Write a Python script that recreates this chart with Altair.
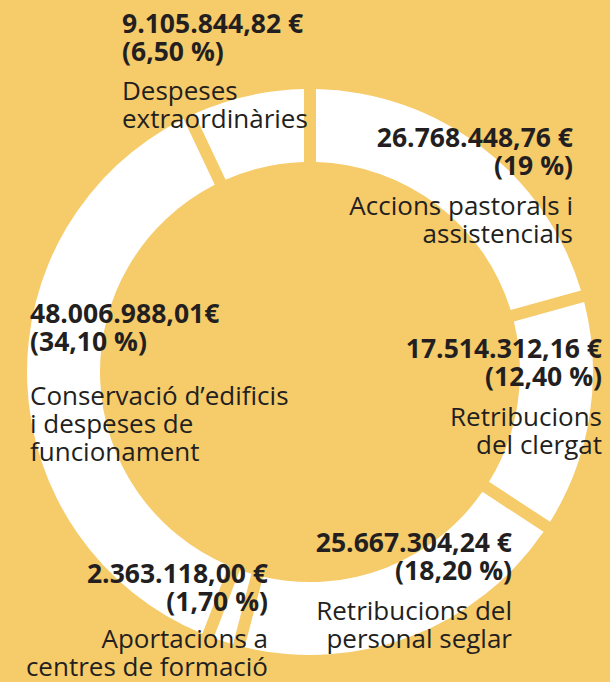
import altair as alt
import pandas as pd

# ---- data ----
categories = [
    "Accions pastorals i assistencials",
    "Retribucions del clergat",
    "Retribucions del personal seglar",
    "Aportacions a centres de formació",
    "Conservació d’edificis i despeses de funcionament",
    "Despeses extraordinàries",
]
amounts = [26768448.76, 17514312.16, 25667304.24, 2363118.00, 48006988.01, 9105844.82]
amount_labels = ["26.768.448,76 €", "17.514.312,16 €", "25.667.304,24 €",
                 "2.363.118,00 €", "48.006.988,01€", "9.105.844,82 €"]
pct_labels = ["(19 %)", "(12,40 %)", "(18,20 %)", "(1,70 %)", "(34,10 %)", "(6,50 %)"]
label_lines = [
    ["Accions pastorals i", "assistencials"],
    ["Retribucions", "del clergat"],
    ["Retribucions del", "personal seglar"],
    ["Aportacions a", "centres de formació"],
    ["Conservació d’edificis", "i despeses de", "funcionament"],
    ["Despeses", "extraordinàries"],
]

# ---- layout (annotation anchors, pixels) ----
W, H = 610, 682
CX, CY = 310, 372
R_IN, R_OUT = 210, 283
LINE_H = 28
# (x, align, first baseline of value, first baseline of label)
anchors = [
    (573, "right", 147, 215),
    (602, "right", 358, 426),
    (512, "right", 552, 620),
    (268, "right", 583, 648),
    (30, "left", 323, 405),
    (122, "left", 33, 100),
]

BG = "#F6CB6A"
INK = "#231F20"
FONT = "Open Sans"

arc_df = pd.DataFrame({"cat": categories, "amount": amounts, "idx": list(range(len(categories)))})

rows = []
for i, (x, align, yv, yl) in enumerate(anchors):
    rows.append({"px": x, "py": yv, "t": amount_labels[i], "w": "bold", "al": align})
    rows.append({"px": x, "py": yv + LINE_H, "t": pct_labels[i], "w": "bold", "al": align})
    for j, ln in enumerate(label_lines[i]):
        rows.append({"px": x, "py": yl + j * LINE_H, "t": ln, "w": "normal", "al": align})
txt = pd.DataFrame(rows)

arc = alt.Chart(arc_df).mark_arc(
    innerRadius=R_IN, outerRadius=R_OUT, padAngle=0.034, color="white"
).encode(
    theta=alt.Theta("amount:Q", stack=True),
    order=alt.Order("idx:Q"),
    x=alt.value(CX),
    y=alt.value(CY),
)

sizes = {"bold": 26.5, "normal": 26}
layers = [arc]
for weight in ["bold", "normal"]:
    for align in ["left", "right"]:
        sub = txt[(txt["w"] == weight) & (txt["al"] == align)].reset_index(drop=True)
        if len(sub) == 0:
            continue
        layers.append(
            alt.Chart(sub).mark_text(
                font=FONT, fontSize=sizes[weight], fontWeight=weight, align=align,
                baseline="alphabetic", color=INK
            ).encode(
                x=alt.X("px:Q", scale=None, axis=None),
                y=alt.Y("py:Q", scale=None, axis=None),
                text="t:N",
            )
        )

chart = alt.layer(*layers).properties(
    width=W, height=H, padding=0, autosize=alt.AutoSizeParams(type="none"),
    background=BG,
).configure_view(stroke=None)

chart.save("out.html", embed_options={"renderer": "svg", "actions": False})
